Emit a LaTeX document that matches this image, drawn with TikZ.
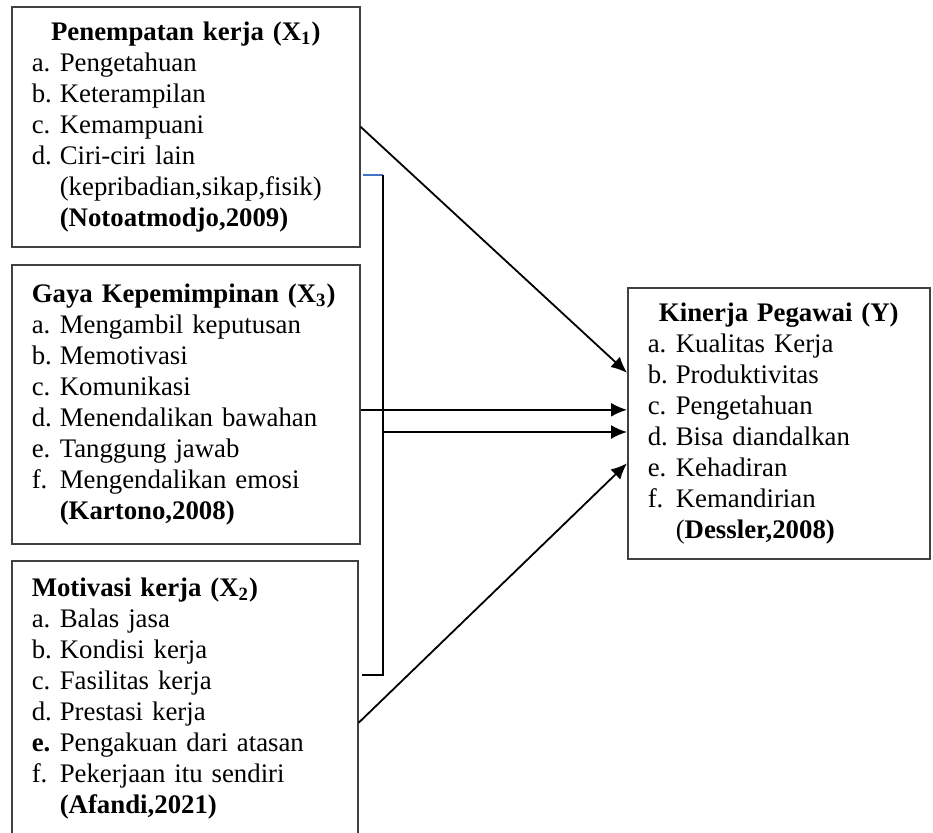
\documentclass[tikz,border=0pt]{standalone}
\usepackage{fontspec}
\setmainfont{Liberation Serif}
\usetikzlibrary{positioning,calc,arrows.meta}

\definecolor{wordblue}{RGB}{68,114,196}
\newcommand{\itm}[2]{\makebox[14pt][l]{#1}#2}
\newcommand{\cont}[1]{\hspace*{14pt}#1}
\newcommand{\ttl}[1]{\makebox[\hsize][c]{\textbf{#1}}}

\begin{document}
\begin{tikzpicture}[x=0.5pt,y=-0.5pt,
    box/.style={draw=black!75, line width=0.8pt, anchor=north west, align=left,
      inner xsep=10pt, inner ysep=0pt, font=\fontsize{13.4}{15.5}\selectfont},
    arr/.style={-{Latex[length=8pt,width=7pt]}, line width=0.9pt}]
  \useasboundingbox (0,0) rectangle (933,832);
  % Variable boxes
  \node[box, text width=154pt, minimum height=120pt] (pk) at (11,6)
    {\ttl{Penempatan kerja (X\textsubscript{1})}\\
     \itm{a.}{Pengetahuan}\\
     \itm{b.}{Keterampilan}\\
     \itm{c.}{Kemampuani}\\
     \itm{d.}{Ciri-ciri lain}\\
     \cont{(kepribadian,sikap,fisik)}\\
     \cont{\textbf{(Notoatmodjo,2009)}}};
  \node[box, text width=154pt, minimum height=139.5pt] (gk) at (11,264)
    {\textbf{Gaya Kepemimpinan (X\textsubscript{3})}\\
     \itm{a.}{Mengambil keputusan}\\
     \itm{b.}{Memotivasi}\\
     \itm{c.}{Komunikasi}\\
     \itm{d.}{Menendalikan bawahan}\\
     \itm{e.}{Tanggung jawab}\\
     \itm{f.}{Mengendalikan emosi}\\
     \cont{\textbf{(Kartono,2008)}}};
  \node[box, text width=153pt, minimum height=142.5pt] (mk) at (11,560)
    {\textbf{Motivasi kerja (X\textsubscript{2})}\\
     \itm{a.}{Balas jasa}\\
     \itm{b.}{Kondisi kerja}\\
     \itm{c.}{Fasilitas kerja}\\
     \itm{d.}{Prestasi kerja}\\
     \itm{\textbf{e.}}{Pengakuan dari atasan}\\
     \itm{f.}{Pekerjaan itu sendiri}\\
     \cont{\textbf{(Afandi,2021)}}\\[-8pt]
     ~};
  \node[box, text width=131pt, minimum height=135.5pt] (kp) at (627,287)
    {\ttl{Kinerja Pegawai (Y)}\\
     \itm{a.}{Kualitas Kerja}\\
     \itm{b.}{Produktivitas}\\
     \itm{c.}{Pengetahuan}\\
     \itm{d.}{Bisa diandalkan}\\
     \itm{e.}{Kehadiran}\\
     \itm{f.}{Kemandirian}\\
     \cont{(\textbf{Dessler,2008)}}};
  % Bracket joining X1 and X2
  \coordinate (bt0) at (363,175);
  \coordinate (bt) at (383,175);
  \coordinate (bm) at (383,432);
  \coordinate (bb) at (383,675);
  \coordinate (bb0) at (362,675);
  \draw[wordblue, line width=0.8pt] (bt0) -- (bt);
  \draw[line width=0.9pt] (bt) -- (bb) -- (bb0);
  % Arrows to Y
  \draw[arr] (pk.east) -- ($(kp.west)+(0,-50.5)$);
  \draw[arr] ($(gk.east)+(0,5.5)$) -- ($(kp.west)+(0,-13.5)$);
  \draw[arr] (bm) -- (bm -| kp.west);
  \draw[arr] ($(mk.east)+(0,19.5)$) -- ($(kp.west)+(0,40)$);
\end{tikzpicture}
\end{document}
